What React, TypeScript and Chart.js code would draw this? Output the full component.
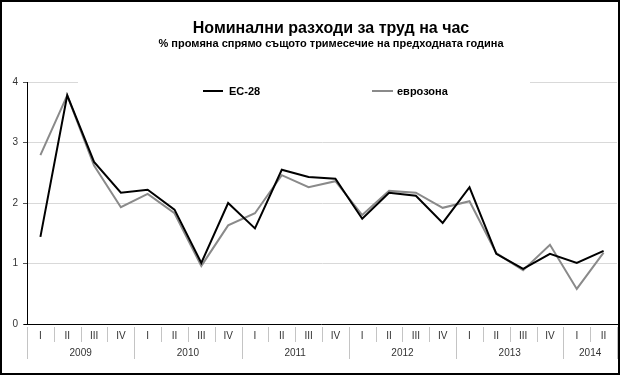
import React, { useEffect, useRef } from "react";
import { Chart, registerables } from "chart.js";

Chart.register(...registerables);

const titleText = "Номинални разходи за труд на час";
const subtitleText = "% промяна спрямо същото тримесечие на предходната година";

const quarters = [
  "I", "II", "III", "IV",
  "I", "II", "III", "IV",
  "I", "II", "III", "IV",
  "I", "II", "III", "IV",
  "I", "II", "III", "IV",
  "I", "II",
];
const years = ["2009", "2010", "2011", "2012", "2013", "2014"];
const quartersPerYear = [4, 4, 4, 4, 4, 2];

const seriesNames = ["ЕС-28", "еврозона"];
const eu28 = [
  1.44, 3.78, 2.68, 2.17,
  2.22, 1.89, 1.01, 2.0,
  1.58, 2.55, 2.43, 2.4,
  1.74, 2.17, 2.12, 1.67,
  2.26, 1.16, 0.91, 1.16,
  1.01, 1.21,
];
const euroArea = [
  2.79, 3.78, 2.62, 1.93,
  2.15, 1.83, 0.96, 1.63,
  1.83, 2.46, 2.26, 2.36,
  1.8, 2.2, 2.17, 1.92,
  2.03, 1.17, 0.89, 1.31,
  0.58, 1.18,
];
const yMin = 0;
const yMax = 4;
const yStep = 1;

const FONT = "'Liberation Sans', Arial, sans-serif";
const colors = ["#000000", "#8a8a8a"];

const decorPlugin = {
  id: "decor",
  beforeDatasetsDraw(chart: any) {
    const ctx = chart.ctx;
    ctx.save();
    // legend box (white background hiding the top gridline)
    ctx.fillStyle = "#ffffff";
    ctx.fillRect(78, 76, 452, 26);
    const items = [
      { x1: 203, x2: 223, tx: 229 },
      { x1: 372, x2: 393, tx: 397 },
    ];
    items.forEach((it, i) => {
      ctx.strokeStyle = colors[i];
      ctx.lineWidth = 2;
      ctx.beginPath();
      ctx.moveTo(it.x1, 91);
      ctx.lineTo(it.x2, 91);
      ctx.stroke();
      ctx.fillStyle = "#000";
      ctx.font = `bold 11px ${FONT}`;
      ctx.textAlign = "left";
      ctx.textBaseline = "middle";
      ctx.fillText(seriesNames[i], it.tx, 92);
    });
    ctx.restore();
  },
  afterDraw(chart: any) {
    const ctx = chart.ctx;
    const xs = chart.scales.x;
    const area = chart.chartArea;
    ctx.save();
    // titles
    ctx.fillStyle = "#000";
    ctx.textAlign = "center";
    ctx.textBaseline = "middle";
    ctx.font = `bold 16px ${FONT}`;
    ctx.fillText(titleText, 331, 29);
    ctx.font = `bold 11px ${FONT}`;
    ctx.fillText(subtitleText, 331, 44);

    // x-axis separators
    const step = xs.getPixelForValue(1) - xs.getPixelForValue(0);
    const boundary = (i: number) => xs.getPixelForValue(i) - step / 2;
    const yearStarts: number[] = [];
    let acc = 0;
    quartersPerYear.forEach((n) => {
      yearStarts.push(acc);
      acc += n;
    });
    yearStarts.push(acc);
    ctx.strokeStyle = "#c4c4c4";
    ctx.lineWidth = 1;
    for (let i = 0; i <= quarters.length; i++) {
      const x = Math.round(boundary(i)) + 0.5;
      const isYear = yearStarts.includes(i);
      ctx.beginPath();
      ctx.moveTo(x, area.bottom + 3);
      ctx.lineTo(x, isYear ? 359 : 342);
      ctx.stroke();
    }
    // year labels
    ctx.fillStyle = "#333";
    ctx.font = `10px ${FONT}`;
    ctx.textAlign = "center";
    ctx.textBaseline = "middle";
    years.forEach((yr, i) => {
      const cx = (boundary(yearStarts[i]) + boundary(yearStarts[i + 1])) / 2;
      ctx.fillText(yr, cx, 353);
    });
    // x axis line
    ctx.strokeStyle = "#000";
    ctx.lineWidth = 1;
    ctx.beginPath();
    ctx.moveTo(area.left - 3, Math.round(area.bottom) + 0.5);
    ctx.lineTo(619, Math.round(area.bottom) + 0.5);
    ctx.stroke();
    // outer border
    ctx.lineWidth = 2;
    ctx.strokeRect(1, 1, 618, 373);
    ctx.restore();
  },
};

export default function App() {
  const ref = useRef<HTMLCanvasElement | null>(null);
  useEffect(() => {
    document.body.style.margin = "0";
    const canvas = ref.current;
    if (!canvas) return;
    const chart = new Chart(canvas, {
      type: "line",
      data: {
        labels: quarters,
        datasets: [
          {
            label: seriesNames[0],
            data: eu28,
            borderColor: colors[0],
            backgroundColor: colors[0],
            borderWidth: 2,
            pointRadius: 0,
            tension: 0,
          },
          {
            label: seriesNames[1],
            data: euroArea,
            borderColor: colors[1],
            backgroundColor: colors[1],
            borderWidth: 2,
            pointRadius: 0,
            tension: 0,
          },
        ],
      },
      options: {
        responsive: false,
        animation: false,
        devicePixelRatio: 1,
        layout: { padding: { top: 82, right: 6, bottom: 0, left: 0 } },
        plugins: {
          legend: { display: false },
          title: { display: false },
          tooltip: { enabled: false },
        },
        scales: {
          x: {
            type: "category",
            offset: true,
            grid: { display: false, drawTicks: false },
            border: { display: false },
            ticks: {
              color: "#333",
              font: { family: FONT, size: 10 },
              padding: 6,
              maxRotation: 0,
              autoSkip: false,
            },
            afterFit(scale: any) {
              scale.height = 52;
            },
          },
          y: {
            min: yMin,
            max: yMax,
            grid: {
              color: "#d9d9d9",
              tickColor: "#555",
              tickLength: 4,
              lineWidth: 1,
            },
            border: { display: true, color: "#000", width: 1 },
            ticks: {
              stepSize: yStep,
              color: "#333",
              font: { family: FONT, size: 10 },
              padding: 5,
            },
            afterFit(scale: any) {
              scale.width = 27;
            },
          },
        },
      },
      plugins: [decorPlugin],
    });
    return () => chart.destroy();
  }, []);
  return (
    <div style={{ position: "fixed", left: 0, top: 0, width: 623, height: 376, background: "#fff" }}>
      <canvas ref={ref} width={623} height={376} style={{ width: 623, height: 376, display: "block" }} />
    </div>
  );
}
